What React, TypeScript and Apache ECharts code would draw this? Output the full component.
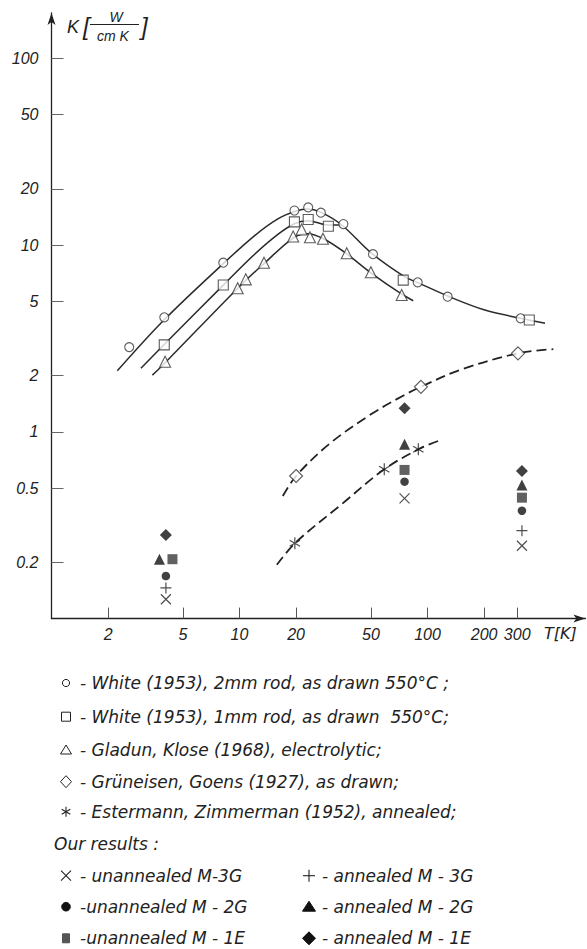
import React, { useEffect, useRef } from "react";
import * as echarts from "echarts";

// ---- axis ticks ----
const xTickValues = [2, 5, 10, 20, 50, 100, 200, 300];
const xTickLabels = ["2", "5", "10", "20", "50", "100", "200", "300"];
const yTickValues = [0.2, 0.5, 1, 2, 5, 10, 20, 50, 100];
const yTickLabels = ["0.2", "0.5", "1", "2", "5", "10", "20", "50", "100"];

// ---- data [T (K), K (W/cm K)] ----
const white2mmPoints = [[2.59, 2.84], [3.98, 4.1], [8.2, 8.04], [19.6, 15.3], [23.2, 15.9], [27.1, 14.9], [35.7, 12.95], [51.3, 8.93], [88.7, 6.31], [128, 5.29], [313, 4.05]];
const white2mmCurve = [[2.24, 2.12], [4, 4.0], [8.2, 7.95], [12, 11.2], [16, 13.8], [20, 15.2], [23, 15.6], [27, 15.0], [35, 12.8], [50, 9.1], [75, 6.8], [90, 6.25], [130, 5.3], [200, 4.5], [313, 4.05], [422, 3.81]];

const white1mmPoints = [[3.98, 2.92], [8.2, 6.11], [19.6, 13.3], [23.2, 13.7], [29.7, 12.6], [74.3, 6.49], [348, 3.97]];
const white1mmCurve = [[2.99, 2.19], [4, 2.95], [8.2, 6.1], [12, 8.9], [16, 11.4], [19.6, 13.0], [23, 13.5], [29.7, 12.8], [35, 12.8]];

const gladunPoints = [[4.02, 2.37], [9.78, 5.87], [10.8, 6.55], [13.5, 8.04], [19.3, 11.1], [21.4, 12.1], [23.7, 11.0], [27.8, 10.8], [37.2, 9.03], [50, 7.15], [72.9, 5.4]];
const gladunCurve = [[3.44, 2.01], [4, 2.33], [10, 6.0], [13.5, 7.95], [19.3, 10.9], [23, 11.5], [28, 10.8], [37, 9.0], [50, 7.1], [73, 5.45], [84, 5.03]];

const grueneisenPoints = [[20, 0.58], [92.3, 1.74], [303, 2.63]];
const grueneisenCurve = [[17, 0.453], [20, 0.58], [30, 0.86], [50, 1.24], [75, 1.57], [92, 1.74], [150, 2.15], [303, 2.63], [467, 2.77]];

const estermannPoints = [[19.7, 0.253], [58.9, 0.63], [89.4, 0.806]];
const estermannCurve = [[15.8, 0.194], [19.7, 0.253], [35, 0.41], [58.9, 0.63], [89.4, 0.806], [114, 0.893]];

const unannealedM3G = [[4.06, 0.127], [75.5, 0.44], [318, 0.2455]];
const annealedM3G = [[4.06, 0.146], [318, 0.2955]];
const unannealedM2G = [[4.06, 0.169], [75.5, 0.541], [318, 0.378]];
const annealedM2G = [[3.75, 0.208], [75.5, 0.857], [318, 0.519]];
const unannealedM1E = [[4.4, 0.208], [75.5, 0.625], [318, 0.444]];
const annealedM1E = [[4.06, 0.28], [75.5, 1.336], [318, 0.617]];

// ---- legend texts ----
const legendRefTexts = [
  "- White (1953), 2mm rod, as drawn 550°C ;",
  "- White (1953), 1mm rod, as drawn  550°C;",
  "- Gladun, Klose (1968), electrolytic;",
  "- Grüneisen, Goens (1927), as drawn;",
  "- Estermann, Zimmerman (1952), annealed;",
];
const legendOurTitle = "Our results :";
const legendOurLeft = ["- unannealed M-3G", "-unannealed M - 2G", "-unannealed M - 1E"];
const legendOurRight = ["- annealed M - 3G", "- annealed M - 2G", "- annealed M - 1E"];

const FONT = "'Liberation Sans', Arial, sans-serif";
const LFONT = "'DejaVu Sans', 'Liberation Sans', sans-serif";
const INK = "#222";

const CROSS = "path://M0 0L10 10M10 0L0 10";
const PLUS = "path://M5 0L5 10M0 5L10 5";
const STAR = "path://M5 0L5 10M0.67 2.5L9.33 7.5M0.67 7.5L9.33 2.5";

const lg = (pts: number[][]) => pts.map(([t, k]) => [Math.log10(t), Math.log10(k)]);

function fmt(values: number[], labels: string[]) {
  const logs = values.map((v) => Math.log10(v));
  return (v: number) => {
    const i = logs.findIndex((l) => Math.abs(l - v) < 1e-6);
    return i >= 0 ? labels[i] : "";
  };
}

function legendSymbol(kind: string, cx: number, cy: number): any {
  const open = { fill: "#fff", stroke: INK, lineWidth: 1 };
  const filled = { fill: "#111", stroke: "#111", lineWidth: 1 };
  const st = { stroke: INK, lineWidth: 1.1 };
  switch (kind) {
    case "circle":
      return { type: "circle", shape: { cx, cy, r: 3.6 }, style: open };
    case "square":
      return { type: "rect", shape: { x: cx - 4.5, y: cy - 4.5, width: 9, height: 9 }, style: open };
    case "triangle":
      return { type: "polygon", shape: { points: [[cx, cy - 5], [cx + 5.5, cy + 4], [cx - 5.5, cy + 4]] }, style: open };
    case "diamond":
      return { type: "polygon", shape: { points: [[cx, cy - 6], [cx + 5.5, cy], [cx, cy + 6], [cx - 5.5, cy]] }, style: open };
    case "star":
      return {
        type: "group",
        children: [
          { type: "line", shape: { x1: cx, y1: cy - 5, x2: cx, y2: cy + 5 }, style: st },
          { type: "line", shape: { x1: cx - 4.3, y1: cy - 2.5, x2: cx + 4.3, y2: cy + 2.5 }, style: st },
          { type: "line", shape: { x1: cx - 4.3, y1: cy + 2.5, x2: cx + 4.3, y2: cy - 2.5 }, style: st },
        ],
      };
    case "cross":
      return {
        type: "group",
        children: [
          { type: "line", shape: { x1: cx - 5, y1: cy - 5, x2: cx + 5, y2: cy + 5 }, style: st },
          { type: "line", shape: { x1: cx - 5, y1: cy + 5, x2: cx + 5, y2: cy - 5 }, style: st },
        ],
      };
    case "plus":
      return {
        type: "group",
        children: [
          { type: "line", shape: { x1: cx, y1: cy - 6, x2: cx, y2: cy + 6 }, style: st },
          { type: "line", shape: { x1: cx - 6, y1: cy, x2: cx + 6, y2: cy }, style: st },
        ],
      };
    case "fcircle":
      return { type: "circle", shape: { cx, cy, r: 4.3 }, style: filled };
    case "fsquare":
      return { type: "rect", shape: { x: cx - 3.5, y: cy - 4.5, width: 7, height: 9 }, style: { fill: "#555", stroke: "#555" } };
    case "ftriangle":
      return { type: "polygon", shape: { points: [[cx, cy - 5.5], [cx + 6.5, cy + 4.5], [cx - 6.5, cy + 4.5]] }, style: filled };
    case "fdiamond":
      return { type: "polygon", shape: { points: [[cx, cy - 6.5], [cx + 6.5, cy], [cx, cy + 6.5], [cx - 6.5, cy]] }, style: filled };
  }
  return null;
}

function textEl(text: string, x: number, y: number, size = 16, align = "left", family = FONT): any {
  return {
    type: "text",
    x,
    y,
    style: {
      text,
      font: `italic ${size}px ${family}`,
      fill: INK,
      textAlign: align,
      textVerticalAlign: "middle",
    },
  };
}

export default function App() {
  const ref = useRef<HTMLDivElement>(null);

  useEffect(() => {
    if (!ref.current) return;
    const chart = echarts.init(ref.current, null, { renderer: "svg" });

    const refRows = [683, 716.7, 750, 781.7, 811.7];
    const refKinds = ["circle", "square", "triangle", "diamond", "star"];
    const ourRows = [875.7, 906.7, 938.3];
    const ourLeftKinds = ["cross", "fcircle", "fsquare"];
    const ourRightKinds = ["plus", "ftriangle", "fdiamond"];

    const graphics: any[] = [];
    // y-axis title K [W / cm K]
    graphics.push(textEl("K", 67, 27, 18));
    graphics.push(textEl("[", 83, 26, 24));
    graphics.push(textEl("W", 116, 17, 14, "center"));
    graphics.push({ type: "line", shape: { x1: 90, y1: 24.5, x2: 139, y2: 24.5 }, style: { stroke: INK, lineWidth: 1 } });
    graphics.push(textEl("cm K", 113, 35.5, 14, "center"));
    graphics.push(textEl("]", 141, 26, 24));
    // x-axis title
    graphics.push(textEl("T[K]", 544, 633, 16, "left", LFONT));

    const LS = 17;
    refRows.forEach((y, i) => {
      graphics.push(legendSymbol(refKinds[i], 66, y));
      graphics.push(textEl(legendRefTexts[i], 80, y, LS, "left", LFONT));
    });
    graphics.push(textEl(legendOurTitle, 54, 844, LS, "left", LFONT));
    ourRows.forEach((y, i) => {
      graphics.push(legendSymbol(ourLeftKinds[i], 66, y));
      graphics.push(textEl(legendOurLeft[i], 80, y, LS, "left", LFONT));
      graphics.push(legendSymbol(ourRightKinds[i], 309, y));
      graphics.push(textEl(legendOurRight[i], 322, y, LS, "left", LFONT));
    });

    const curve = (data: number[][], dashed = false) => ({
      type: "line",
      data: lg(data),
      smooth: 0.35,
      symbol: "none",
      silent: true,
      z: 1,
      lineStyle: dashed
        ? { color: INK, width: 1.8, type: [10, 5] }
        : { color: "#2b2b2b", width: 1.5 },
    });
    const openStyle = { color: "#fff", borderColor: "#333", borderWidth: 1.1 };
    const strokeStyle = { color: "none", borderColor: INK, borderWidth: 1.2 };
    const pts = (data: number[][], symbol: string, size: number, itemStyle: any, z = 3) => ({
      type: "scatter",
      data: lg(data),
      symbol,
      symbolSize: size,
      symbolKeepAspect: true,
      itemStyle,
      z,
    });

    chart.setOption({
      animation: false,
      backgroundColor: "#fff",
      grid: {
        left: 51.5,
        right: 1.6,
        top: 13,
        bottom: 330.4,
        containLabel: false,
        outerBoundsMode: "none",
      },
      xAxis: {
        type: "value",
        min: 0,
        max: 2.84,
        axisLine: {
          show: true,
          onZero: false,
          symbol: ["none", "arrow"],
          symbolSize: [6, 12],
          lineStyle: { color: INK, width: 1.3 },
        },
        axisTick: {
          show: true,
          inside: true,
          length: 11,
          customValues: xTickValues.map((v) => Math.log10(v)),
          lineStyle: { color: "#555", width: 1 },
        },
        axisLabel: {
          customValues: xTickValues.map((v) => Math.log10(v)),
          formatter: fmt(xTickValues, xTickLabels),
          fontFamily: FONT,
          fontStyle: "italic",
          fontSize: 16,
          color: INK,
          margin: 8,
        },
        splitLine: { show: false },
      },
      yAxis: {
        type: "value",
        min: -1,
        max: 2.242,
        axisLine: {
          show: true,
          onZero: false,
          symbol: ["none", "arrow"],
          symbolSize: [6, 12],
          lineStyle: { color: INK, width: 1.3 },
        },
        axisTick: {
          show: true,
          inside: true,
          length: 12,
          customValues: yTickValues.map((v) => Math.log10(v)),
          lineStyle: { color: "#666", width: 1 },
        },
        axisLabel: {
          customValues: yTickValues.map((v) => Math.log10(v)),
          formatter: fmt(yTickValues, yTickLabels),
          fontFamily: FONT,
          fontStyle: "italic",
          fontSize: 16,
          color: INK,
          margin: 13,
        },
        splitLine: { show: false },
      },
      graphic: graphics,
      series: [
        curve(white2mmCurve),
        curve(white1mmCurve),
        curve(gladunCurve),
        curve(grueneisenCurve, true),
        curve(estermannCurve, true),
        pts(white2mmPoints, "circle", 9, openStyle),
        pts(white1mmPoints, "rect", 10, openStyle),
        pts(gladunPoints, "triangle", 11, openStyle),
        pts(grueneisenPoints, "diamond", 13, openStyle),
        pts(estermannPoints, STAR, 12, strokeStyle),
        pts(unannealedM3G, CROSS, 10, strokeStyle),
        pts(annealedM3G, PLUS, 11, strokeStyle),
        pts(unannealedM2G, "circle", 8.5, { color: "#111" }),
        pts(annealedM2G, "triangle", 11, { color: "#111" }),
        pts(unannealedM1E, "rect", 10, { color: "#3a3a3a" }),
        pts(annealedM1E, "diamond", 12, { color: "#111" }),
      ],
    });

    return () => chart.dispose();
  }, []);

  return (
    <div
      ref={ref}
      style={{ position: "absolute", left: 0, top: 0, width: 587, height: 949, background: "#fff" }}
    />
  );
}
